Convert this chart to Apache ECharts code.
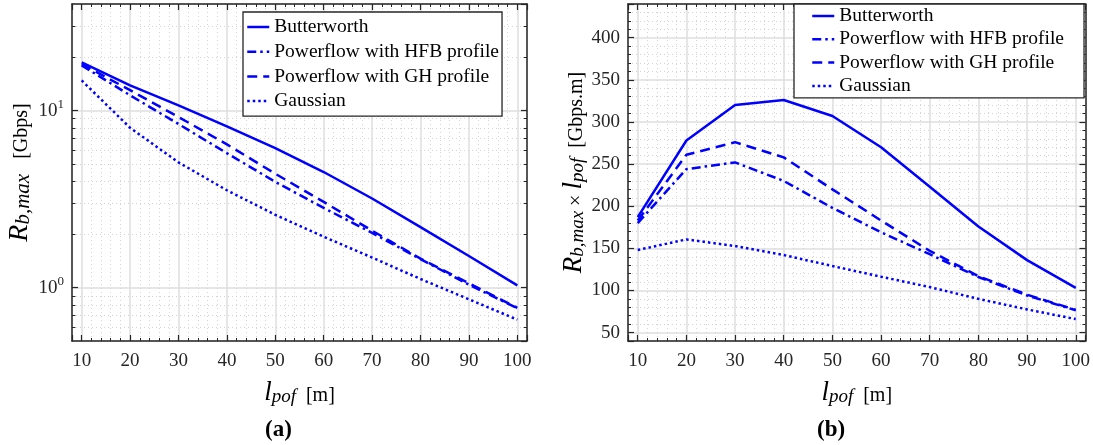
<!DOCTYPE html>
<html>
<head>
<meta charset="utf-8">
<title>Rb,max vs lpof</title>
<script src="https://cdn.jsdelivr.net/npm/echarts/dist/echarts.min.js"></script>
<style>
  html, body { margin: 0; padding: 0; background: #fff; }
  #main { width: 1093px; height: 445px; }
</style>
</head>
<body>
<div id="main"></div>
<script>
// fibre length (m)
const lengths = [10, 20, 30, 40, 50, 60, 70, 80, 90, 100]
const names = ['Butterworth', 'Powerflow with HFB profile', 'Powerflow with GH profile', 'Gaussian']

// (a) Rb,max in Gbps
const butterRate = [18.7, 13.9, 10.7, 8.15, 6.14, 4.5, 3.19, 2.2, 1.51, 1.03]
const hfbRate = [18.0, 12.2, 8.4, 5.75, 3.96, 2.82, 2.04, 1.45, 1.04, 0.765]
const ghRate = [18.3, 13.05, 9.2, 6.45, 4.4, 3.05, 2.1, 1.46, 1.06, 0.77]
const gaussRate = [14.8, 8.0, 5.1, 3.55, 2.58, 1.94, 1.48, 1.12, 0.86, 0.66]

// (b) Rb,max x lpof in Gbps.m
const butterProd = [187, 278, 320, 326, 307, 270, 223, 176, 136, 103]
const hfbProd = [180, 244, 252, 230, 198, 169, 143, 116, 94, 76.5]
const ghProd = [183, 261, 276, 258, 220, 183, 147, 117, 95, 77]
const gaussProd = [148, 160.6, 152.7, 142, 129, 116.3, 104, 90, 77.5, 66]

// log axis minor positions (2..9 x decade)
const logMinor = [0.6, 0.7, 0.8, 0.9, 2, 3, 4, 5, 6, 7, 8, 9, 20, 30]

const serif = 'Liberation Serif'
const blue = '#0000ff'
const dark = '#262626'
const dashes = ['solid', [9, 4, 2.5, 4], [10, 6], [2.5, 3]]

const chart = echarts.init(document.getElementById('main'))

const pairs = (ys) => ys.map((v, i) => [lengths[i], v])

// math italic bigger than the unit text, like the latex labels
function makeRich(mainSize, subSize) {
  return {
    i: { fontFamily: serif, fontStyle: 'italic', fontSize: mainSize, lineHeight: mainSize, verticalAlign: 'top', color: '#000' },
    sub: { fontFamily: serif, fontStyle: 'italic', fontSize: subSize, lineHeight: subSize, padding: [12, 0, 0, 0], verticalAlign: 'bottom', color: '#000' },
    t: { fontFamily: serif, fontSize: 20, lineHeight: 20, padding: [6, 0, 0, 0], verticalAlign: 'top', color: '#000' }
  }
}
const nameStyle = { fontFamily: serif, fontSize: 20, color: '#000', rich: makeRich(27, 19) }
const nameStyleA = { fontFamily: serif, fontSize: 20, color: '#000', rich: makeRich(28, 21) }

const tickLabel = { fontFamily: serif, fontSize: 19, color: dark }

const gridLine = { show: true, lineStyle: { color: '#dedede', width: 1.5 } }
const minorLine = { show: true, lineStyle: { color: '#d4d4d4', width: 1, type: [1, 3] } }

function xAxisPair(gridIndex) {
  let base = {
    type: 'value', gridIndex: gridIndex, min: 8, max: 102,
    minInterval: 10, maxInterval: 10,
    axisLine: { show: true, lineStyle: { color: dark, width: 1.5 } },
    axisTick: { show: true, inside: true, length: 6, lineStyle: { color: dark, width: 1.2 } },
    minorTick: { show: true, splitNumber: 5, length: 3, lineStyle: { color: dark, width: 1 } }
  }
  return [
    Object.assign({}, base, {
      position: 'bottom',
      axisLabel: { ...tickLabel, margin: 11, showMinLabel: false, showMaxLabel: false },
      splitLine: gridLine, minorSplitLine: minorLine,
      name: '{i|l}{sub|pof}{t|  [m]}', nameLocation: 'middle', nameGap: 30, nameTextStyle: nameStyle
    }),
    Object.assign({}, base, {
      position: 'top', axisLabel: { show: false }, splitLine: { show: false }
    })
  ]
}

function logAxis(pos, withLabel) {
  return {
    type: 'log', logBase: 10, gridIndex: 0, min: 0.5, max: 40, position: pos,
    axisLine: { show: true, lineStyle: { color: dark, width: 1.5 } },
    axisTick: { show: true, inside: true, length: 6, lineStyle: { color: dark, width: 1.2 } },
    minorTick: { show: false },
    splitLine: withLabel ? gridLine : { show: false },
    axisLabel: withLabel ? {
      ...tickLabel, margin: 8, showMinLabel: false, showMaxLabel: false,
      formatter: function (v) {
        let e = Math.log10(v)
        if (Math.abs(e - Math.round(e)) > 1e-6) return ''
        return '{b|10}{sup|' + Math.round(e) + '}'
      },
      rich: {
        b: { fontFamily: serif, fontSize: 19, lineHeight: 26, verticalAlign: 'middle', color: dark },
        sup: { fontFamily: serif, fontSize: 13, lineHeight: 13, verticalAlign: 'top', color: dark }
      }
    } : { show: false },
    name: withLabel ? '{i|R}{sub|b,max}{t|   [Gbps]}' : '',
    nameLocation: 'middle', nameGap: 38, nameTextStyle: nameStyleA
  }
}

function linAxis(pos, withLabel) {
  return {
    type: 'value', gridIndex: 1, min: 40, max: 440, minInterval: 50, maxInterval: 50, position: pos,
    axisLine: { show: true, lineStyle: { color: dark, width: 1.5 } },
    axisTick: { show: true, inside: true, length: 6, lineStyle: { color: dark, width: 1.2 } },
    minorTick: { show: true, splitNumber: 5, length: 3, lineStyle: { color: dark, width: 1 } },
    splitLine: withLabel ? gridLine : { show: false },
    minorSplitLine: withLabel ? minorLine : { show: false },
    axisLabel: withLabel ? { ...tickLabel, margin: 8, showMinLabel: false, showMaxLabel: false } : { show: false },
    name: withLabel ? '{i|R}{sub|b,max}{t| × }{i|l}{sub|pof}{t|  [Gbps.m]}' : '',
    nameLocation: 'middle', nameGap: 40, nameTextStyle: nameStyle
  }
}

// dotted minor grid + inner minor ticks for the log axis
let logMarks = []
logMinor.forEach(v => {
  logMarks.push({ yAxis: v })
})
let logTicks = []
logMinor.forEach(v => {
  logTicks.push([{ coord: [8, v] }, { coord: [8.7, v] }])
  logTicks.push([{ coord: [101.3, v] }, { coord: [102, v] }])
})

function makeSeries(name, idx, data, xi, yi) {
  return {
    name: name, type: 'line', data: pairs(data), xAxisIndex: xi, yAxisIndex: yi,
    symbol: 'none', smooth: false, z: 3,
    lineStyle: { color: blue, width: 2.5, type: dashes[idx] },
    itemStyle: { color: blue },
    emphasis: { disabled: true }
  }
}

function legendAt(left, top, padding, gap) {
  return {
    data: names, orient: 'vertical', left: left, top: top, padding: padding, itemGap: gap,
    itemWidth: 22, itemHeight: 10, selectedMode: false, z: 20,
    // hide the marker dot, keep the line sample
    itemStyle: { opacity: 0 },
    lineStyle: { color: blue, width: 2.5, type: 'inherit' },
    backgroundColor: '#fff', borderColor: dark, borderWidth: 1.3, borderRadius: 0,
    textStyle: { fontFamily: serif, fontSize: 19.5, lineHeight: 20, color: '#000' }
  }
}

let option = {
  animation: false,
  backgroundColor: '#fff',
  grid: [
    { left: 72, top: 4, width: 455, height: 337 },
    { left: 628, top: 4, width: 459, height: 337 }
  ],
  xAxis: [...xAxisPair(0), ...xAxisPair(1)],
  yAxis: [logAxis('left', true), logAxis('right', false), linAxis('left', true), linAxis('right', false)],
  legend: [
    legendAt(243, 12, [5, 3, 5, 3], 4.7),
    legendAt(794, 4, [2, 20, 2, 17], 3.3)
  ],
  series: [
    {
      type: 'line', data: [], xAxisIndex: 0, yAxisIndex: 0, silent: true, z: 1,
      markLine: {
        silent: true, symbol: ['none', 'none'], label: { show: false }, animation: false, z: 1,
        lineStyle: { color: '#d4d4d4', width: 1, type: [1, 3] },
        data: logMarks
      }
    },
    {
      type: 'line', data: [], xAxisIndex: 0, yAxisIndex: 0, silent: true, z: 4,
      markLine: {
        silent: true, symbol: ['none', 'none'], label: { show: false }, animation: false,
        lineStyle: { color: dark, width: 1, type: 'solid' },
        data: logTicks
      }
    },
    makeSeries(names[0], 0, butterRate, 0, 0),
    makeSeries(names[1], 1, hfbRate, 0, 0),
    makeSeries(names[2], 2, ghRate, 0, 0),
    makeSeries(names[3], 3, gaussRate, 0, 0),
    makeSeries(names[0], 0, butterProd, 2, 2),
    makeSeries(names[1], 1, hfbProd, 2, 2),
    makeSeries(names[2], 2, ghProd, 2, 2),
    makeSeries(names[3], 3, gaussProd, 2, 2)
  ],
  graphic: [
    { type: 'text', left: 265, top: 419, style: { text: '(a)', font: 'bold 23px "Liberation Serif"', fill: '#000' } },
    { type: 'text', left: 817, top: 419, style: { text: '(b)', font: 'bold 23px "Liberation Serif"', fill: '#000' } }
  ]
}

chart.setOption(option)
</script>
</body>
</html>
